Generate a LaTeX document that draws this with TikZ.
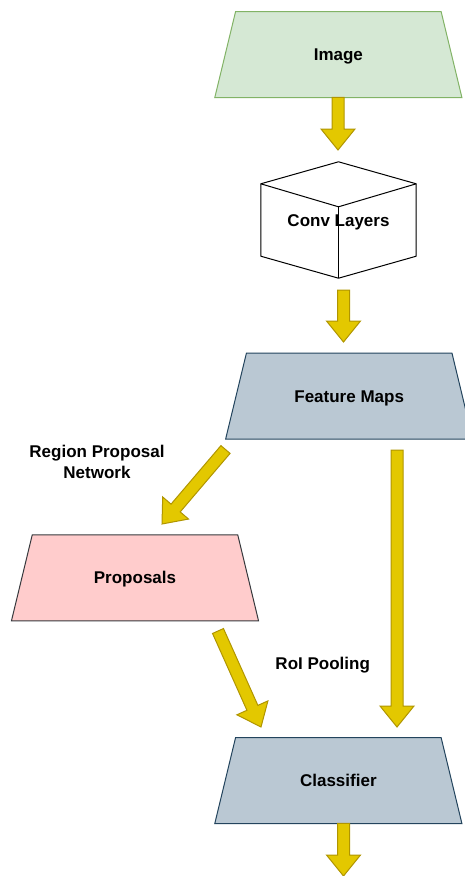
\documentclass[tikz,border=0pt]{standalone}
\usepackage{fontspec}
\setmainfont{Liberation Sans}
\usetikzlibrary{calc,backgrounds}
\definecolor{imgfill}{HTML}{D5E8D4}
\definecolor{imgdraw}{HTML}{82B366}
\definecolor{bluefill}{HTML}{BAC8D3}
\definecolor{bluedraw}{HTML}{23445D}
\definecolor{redfill}{HTML}{FFCCCC}
\definecolor{reddraw}{HTML}{36393D}
\definecolor{arrfill}{HTML}{E3C800}
\definecolor{arrdraw}{HTML}{B09500}
\tikzset{
  trapbox/.style={minimum width=246.7pt, minimum height=85.6pt, inner sep=0pt,
    text height=12.2pt, text depth=0pt,
    font=\fontsize{17pt}{20pt}\selectfont\bfseries},
  cubebox/.style={minimum width=155pt, minimum height=116pt, inner sep=0pt,
    text height=12.2pt, text depth=0pt,
    font=\fontsize{17pt}{20pt}\selectfont\bfseries},
  lbl/.style={inner sep=0pt, align=center, font=\fontsize{17pt}{21pt}\selectfont\bfseries},
  blockarrow/.style={fill=arrfill, draw=arrdraw, line width=1pt, line join=miter},
  greenshape/.style={fill=imgfill, draw=imgdraw, line width=1pt},
  blueshape/.style={fill=bluefill, draw=bluedraw, line width=1pt},
  redshape/.style={fill=redfill, draw=reddraw, line width=1pt},
  cubeshape/.style={fill=white, draw=black, line width=1pt, line join=round},
}
\newcommand\trapshape[2]{%
  \path[#2] (#1.south west) -- (#1.south east) -- ([xshift=-20.8pt]#1.north east)
    -- ([xshift=20.8pt]#1.north west) -- cycle;}
\newcommand\blockarr[2]{%
  \coordinate (hb) at ($(#2)!21pt!(#1)$);
  \path[blockarrow] ($(#1)!6pt!90:(#2)$) -- ($(hb)!6pt!-90:(#1)$)
    -- ($(hb)!17pt!-90:(#1)$) -- (#2) -- ($(hb)!17pt!90:(#1)$)
    -- ($(hb)!6pt!90:(#1)$) -- ($(#1)!6pt!-90:(#2)$) -- cycle;}
\begin{document}
\begin{tikzpicture}[x=1pt,y=-1pt]
\useasboundingbox (0,0) rectangle (464,876);
% nodes
\node[trapbox] (img) at (338.35,54.5) {Image};
\node[cubebox] (conv) at (338.5,220) {Conv Layers};
\node[trapbox] (fm) at (349.2,396) {Feature Maps};
\node[trapbox] (prop) at (135,577.85) {Proposals};
\node[trapbox] (cls) at (338.35,780.5) {Classifier};
\node[lbl] (rpn) at (97,461.5) {Region Proposal\\Network};
\node[lbl, text height=12.2pt, text depth=0pt] (roi) at (322.7,663) {RoI Pooling};
% shapes behind text
\begin{scope}[on background layer]
  \trapshape{img}{greenshape}
  \trapshape{fm}{blueshape}
  \trapshape{prop}{redshape}
  \trapshape{cls}{blueshape}
  \path[cubeshape] (conv.north) -- ([yshift=-22pt]conv.north east)
    -- ([yshift=22pt]conv.south east) -- (conv.south)
    -- ([yshift=22pt]conv.south west) -- ([yshift=-22pt]conv.north west) -- cycle;
  \draw[line width=1pt] ([yshift=-22pt]conv.north west) -- ([yshift=-45pt]conv.north)
    -- ([yshift=-22pt]conv.north east);
  \draw[line width=1pt] ([yshift=-45pt]conv.north) -- (conv.south);
\end{scope}
% arrow end points
\coordinate (a1s) at (338,97.3);
\coordinate (a1e) at (338,150);
\coordinate (a2s) at (343.5,290);
\coordinate (a2e) at (343.5,342);
\coordinate (a3s) at (225.5,449.5);
\coordinate (a3e) at (162,524);
\coordinate (a4s) at (218,631);
\coordinate (a4e) at (261,727);
\coordinate (a5s) at (397,450);
\coordinate (a5e) at (397,727);
\coordinate (a6s) at (343.5,823.3);
\coordinate (a6e) at (343.5,876);
\blockarr{a1s}{a1e}
\blockarr{a2s}{a2e}
\blockarr{a3s}{a3e}
\blockarr{a4s}{a4e}
\blockarr{a5s}{a5e}
\blockarr{a6s}{a6e}
\end{tikzpicture}
\end{document}
